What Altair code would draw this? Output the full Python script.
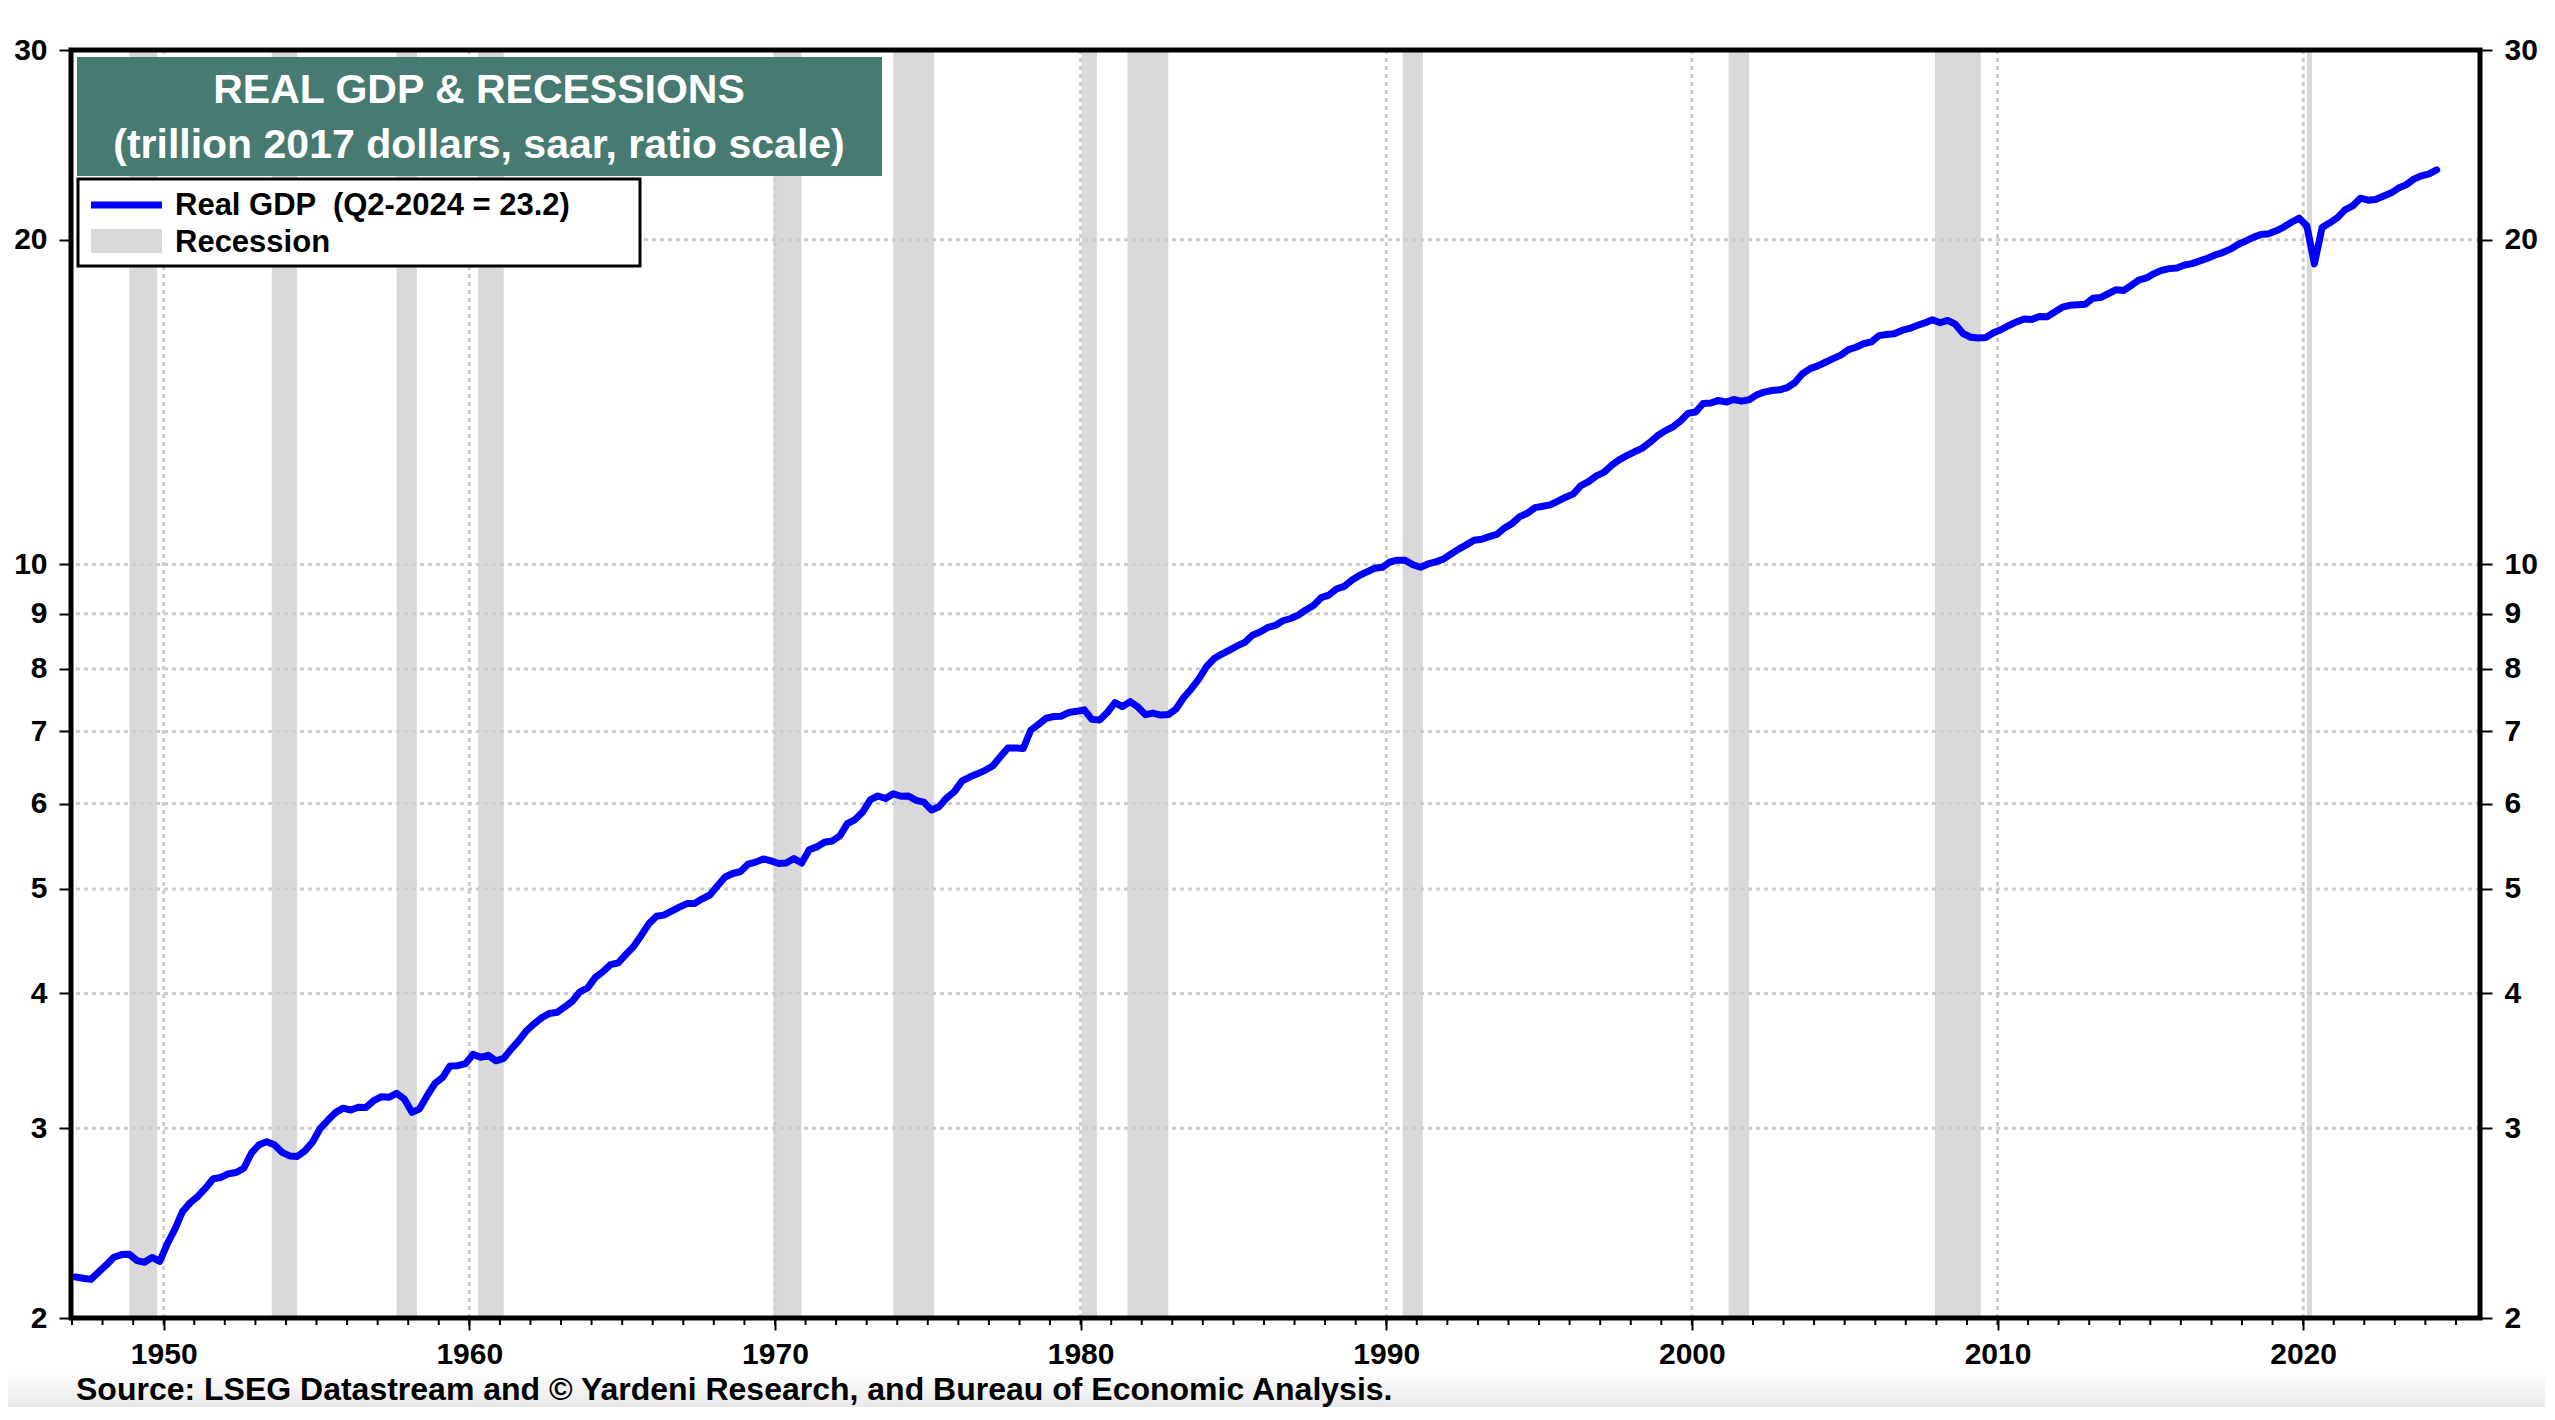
import altair as alt
import pandas as pd

# ---------------- data ----------------
first_year = 1947  # quarterly series starts 1947 Q1, ends 2024 Q2
gdp_trillions = [
    2.183, 2.177, 2.172, 2.206,   # 1947
    2.240, 2.277, 2.290, 2.292,   # 1948
    2.261, 2.253, 2.276, 2.257,   # 1949
    2.346, 2.418, 2.511, 2.559,   # 1950
    2.594, 2.639, 2.693, 2.700,   # 1951
    2.722, 2.729, 2.754, 2.845,   # 1952
    2.896, 2.914, 2.896, 2.849,   # 1953
    2.827, 2.824, 2.858, 2.913,   # 1954
    2.999, 3.051, 3.101, 3.131,   # 1955
    3.118, 3.137, 3.136, 3.182,   # 1956
    3.208, 3.204, 3.232, 3.193,   # 1957
    3.103, 3.125, 3.215, 3.300,   # 1958
    3.342, 3.426, 3.428, 3.443,   # 1959
    3.512, 3.490, 3.505, 3.464,   # 1960
    3.482, 3.552, 3.617, 3.694,   # 1961
    3.750, 3.798, 3.833, 3.842,   # 1962
    3.886, 3.933, 4.014, 4.047,   # 1963
    4.140, 4.190, 4.254, 4.270,   # 1964
    4.348, 4.420, 4.525, 4.641,   # 1965
    4.717, 4.728, 4.770, 4.809,   # 1966
    4.846, 4.848, 4.896, 4.936,   # 1967
    5.035, 5.129, 5.168, 5.190,   # 1968
    5.273, 5.295, 5.331, 5.309,   # 1969
    5.280, 5.285, 5.336, 5.284,   # 1970
    5.437, 5.470, 5.525, 5.539,   # 1971
    5.601, 5.749, 5.799, 5.894,   # 1972
    6.050, 6.098, 6.065, 6.126,   # 1973
    6.095, 6.098, 6.041, 6.019,   # 1974
    5.918, 5.960, 6.073, 6.155,   # 1975
    6.298, 6.350, 6.394, 6.442,   # 1976
    6.501, 6.628, 6.757, 6.758,   # 1977
    6.749, 7.017, 7.104, 7.200,   # 1978
    7.226, 7.232, 7.288, 7.307,   # 1979
    7.330, 7.183, 7.171, 7.289,   # 1980
    7.444, 7.380, 7.459, 7.375,   # 1981
    7.255, 7.280, 7.249, 7.256,   # 1982
    7.344, 7.521, 7.665, 7.831,   # 1983
    8.041, 8.178, 8.257, 8.328,   # 1984
    8.402, 8.465, 8.596, 8.656,   # 1985
    8.740, 8.777, 8.866, 8.909,   # 1986
    8.974, 9.072, 9.161, 9.314,   # 1987
    9.365, 9.487, 9.541, 9.667,   # 1988
    9.767, 9.843, 9.918, 9.938,   # 1989
    10.052, 10.090, 10.088, 9.992,  # 1990
    9.940, 10.010, 10.055, 10.114,  # 1991
    10.224, 10.332, 10.426, 10.528,  # 1992
    10.552, 10.611, 10.663, 10.811,  # 1993
    10.916, 11.075, 11.156, 11.290,  # 1994
    11.322, 11.355, 11.450, 11.544,  # 1995
    11.626, 11.832, 11.934, 12.081,  # 1996
    12.172, 12.353, 12.500, 12.614,  # 1997
    12.719, 12.813, 12.973, 13.162,  # 1998
    13.301, 13.405, 13.578, 13.808,  # 1999
    13.848, 14.100, 14.114, 14.195,  # 2000
    14.144, 14.222, 14.171, 14.213,  # 2001
    14.363, 14.449, 14.498, 14.518,  # 2002
    14.589, 14.738, 15.027, 15.191,  # 2003
    15.281, 15.400, 15.518, 15.634,  # 2004
    15.818, 15.901, 16.021, 16.082,  # 2005
    16.301, 16.340, 16.368, 16.483,  # 2006
    16.552, 16.656, 16.748, 16.862,  # 2007
    16.754, 16.837, 16.704, 16.375,  # 2008
    16.244, 16.217, 16.234, 16.400,  # 2009
    16.515, 16.657, 16.784, 16.893,  # 2010
    16.875, 16.979, 16.968, 17.146,  # 2011
    17.321, 17.389, 17.409, 17.427,  # 2012
    17.659, 17.681, 17.825, 17.975,  # 2013
    17.948, 18.137, 18.354, 18.438,  # 2014
    18.609, 18.738, 18.808, 18.835,  # 2015
    18.952, 19.009, 19.121, 19.230,  # 2016
    19.366, 19.465, 19.606, 19.805,  # 2017
    19.953, 20.106, 20.231, 20.263,  # 2018
    20.390, 20.553, 20.766, 20.950,  # 2019
    20.600, 19.000, 20.536, 20.740,  # 2020
    20.970, 21.320, 21.500, 21.860,  # 2021
    21.770, 21.800, 21.950, 22.100,  # 2022
    22.339, 22.492, 22.769, 22.932,  # 2023
    23.030, 23.220,                  # 2024
]

recession_start = ["1948-11-15", "1953-07-15", "1957-08-15", "1960-04-15",
                   "1969-12-15", "1973-11-15", "1980-01-15", "1981-07-15",
                   "1990-07-15", "2001-03-15", "2007-12-15", "2020-02-15"]
recession_end = ["1949-10-15", "1954-05-15", "1958-04-15", "1961-02-15",
                 "1970-11-15", "1975-03-15", "1980-07-15", "1982-11-15",
                 "1991-03-15", "2001-11-15", "2009-06-15", "2020-04-15"]

y_tick_values = [2, 3, 4, 5, 6, 7, 8, 9, 10, 20, 30]
y_grid_values = [3, 4, 5, 6, 7, 8, 9, 10, 20]
decade_years = [1950, 1960, 1970, 1980, 1990, 2000, 2010, 2020]
minor_years = list(range(1947, 2026))
x_domain = ["1946-12-20", "2025-10-15"]

title_lines = ["REAL GDP & RECESSIONS", "(trillion 2017 dollars, saar, ratio scale)"]
legend_labels = ["Real GDP \u00a0(Q2-2024 = 23.2)", "Recession"]
source_text = "Source: LSEG Datastream and \u00a9 Yardeni Research, and Bureau of Economic Analysis."

# ---------------- layout / style ----------------
W, H = 2409, 1268
FONT = "Liberation Sans, Arial, Helvetica, sans-serif"
BLUE = "#0000ff"
REC_GRAY = "#d9d9d9"
GRID = "#cccccc"
TEAL = "#477a70"


def ms(date_str):
    """UTC timestamp in milliseconds, as Vega uses for time scales."""
    return int(pd.Timestamp(date_str, tz="UTC").value // 10**6)


mid_month = [2, 5, 8, 11]
dates = [f"{first_year + i // 4}-{mid_month[i % 4]:02d}-15" for i in range(len(gdp_trillions))]
gdp_df = pd.DataFrame({"date": dates, "gdp": gdp_trillions})
rec_df = pd.DataFrame({"start": recession_start, "end": recession_end})
grid_y_df = pd.DataFrame({"v": y_grid_values})
decade_df = pd.DataFrame({"yr": [f"{y}-01-01" for y in decade_years]})
minor_df = pd.DataFrame({"yr": [f"{y}-01-01" for y in minor_years]})
one = pd.DataFrame({"k": [0]})

x_scale = alt.Scale(domain=[ms(d) for d in x_domain])
y_scale = alt.Scale(type="log", domain=[2, 30], nice=False)

label_style = dict(labelFont=FONT, labelFontSize=30, labelFontWeight="bold",
                   labelColor="black", labelOverlap=False, labelFlush=False)

x_axis = alt.Axis(values=[ms(f"{y}-01-01") for y in decade_years],
                  labelExpr="utcFormat(datum.value, '%Y')", orient="bottom",
                  title=None, grid=False, domain=False, tickSize=12, tickWidth=2,
                  tickColor="black", labelPadding=9, **label_style)
y_axis_left = alt.Axis(values=y_tick_values, format="d", title=None, grid=False,
                       domain=False, orient="left", tickSize=12, tickWidth=2,
                       tickColor="black", labelPadding=12, **label_style)
y_axis_right = alt.Axis(values=y_tick_values, format="d", title=None, grid=False,
                        domain=False, orient="right", tickSize=12, tickWidth=2,
                        tickColor="black", labelPadding=12, **label_style)

gradient = alt.Gradient(gradient="linear",
                        stops=[alt.GradientStop(color="#ffffff", offset=0),
                               alt.GradientStop(color="#e6e6e6", offset=1)],
                        x1=0, x2=0, y1=0, y2=1)

bg = alt.Chart(one).mark_rect(color=gradient).encode(
    x=alt.value(-63), x2=alt.value(W + 65), y=alt.value(1322), y2=alt.value(1360))

rec = alt.Chart(rec_df).mark_rect(color=REC_GRAY).encode(
    x=alt.X("start:T", scale=x_scale, axis=x_axis), x2="end:T",
    y=alt.value(0), y2=alt.value(H))

grid_v = alt.Chart(decade_df).mark_rule(color=GRID, strokeWidth=3, strokeDash=[4, 4]).encode(
    x=alt.X("yr:T", scale=x_scale, axis=x_axis))

grid_h = alt.Chart(grid_y_df).mark_rule(color=GRID, strokeWidth=3, strokeDash=[4, 4]).encode(
    y=alt.Y("v:Q", scale=y_scale, axis=y_axis_right))

minor_ticks = alt.Chart(minor_df).mark_rule(color="black", strokeWidth=2).encode(
    x=alt.X("yr:T", scale=x_scale, axis=x_axis), y=alt.value(H), y2=alt.value(H + 7))

line = alt.Chart(gdp_df).mark_line(color=BLUE, strokeWidth=7, strokeJoin="round",
                                   strokeCap="round").encode(
    x=alt.X("date:T", scale=x_scale, axis=x_axis),
    y=alt.Y("gdp:Q", scale=y_scale, axis=y_axis_left))

frame = alt.Chart(one).mark_rect(fillOpacity=0, stroke="black", strokeWidth=5).encode(
    x=alt.value(0), x2=alt.value(W), y=alt.value(0), y2=alt.value(H))

title_box = alt.Chart(one).mark_rect(color=TEAL).encode(
    x=alt.value(6), x2=alt.value(811), y=alt.value(7), y2=alt.value(126))
title1 = alt.Chart(one).mark_text(text=title_lines[0], font=FONT, fontSize=41,
                                  fontWeight="bold", color="white", align="center",
                                  baseline="alphabetic").encode(x=alt.value(408), y=alt.value(53))
title2 = alt.Chart(one).mark_text(text=title_lines[1], font=FONT, fontSize=41,
                                  fontWeight="bold", color="white", align="center",
                                  baseline="alphabetic").encode(x=alt.value(408), y=alt.value(108))

legend_box = alt.Chart(one).mark_rect(fill="white", stroke="black", strokeWidth=3).encode(
    x=alt.value(7), x2=alt.value(569), y=alt.value(129), y2=alt.value(216))
legend_line = alt.Chart(one).mark_rule(color=BLUE, strokeWidth=7).encode(
    x=alt.value(20), x2=alt.value(91), y=alt.value(155))
legend_rect = alt.Chart(one).mark_rect(color=REC_GRAY).encode(
    x=alt.value(20), x2=alt.value(91), y=alt.value(179), y2=alt.value(203))
legend_t1 = alt.Chart(one).mark_text(text=legend_labels[0], font=FONT, fontSize=31,
                                     fontWeight="bold", color="black", align="left",
                                     baseline="alphabetic").encode(x=alt.value(104), y=alt.value(165))
legend_t2 = alt.Chart(one).mark_text(text=legend_labels[1], font=FONT, fontSize=31,
                                     fontWeight="bold", color="black", align="left",
                                     baseline="alphabetic").encode(x=alt.value(104), y=alt.value(202))

source = alt.Chart(one).mark_text(text=source_text, font=FONT, fontSize=32,
                                  fontWeight="bold", color="black", align="left",
                                  baseline="alphabetic").encode(x=alt.value(5), y=alt.value(1350))

chart = alt.layer(
    bg, rec, grid_v, grid_h, minor_ticks, line, frame,
    title_box, title1, title2,
    legend_box, legend_line, legend_rect, legend_t1, legend_t2,
    source,
).resolve_axis(y="independent").properties(
    width=W, height=H,
    padding={"left": 63, "top": 42, "right": 65, "bottom": 89},
    autosize=alt.AutoSizeParams(type="none"),
    background="white",
).configure_view(strokeWidth=0)

chart.save("out.html", embed_options={"renderer": "svg", "actions": False})
